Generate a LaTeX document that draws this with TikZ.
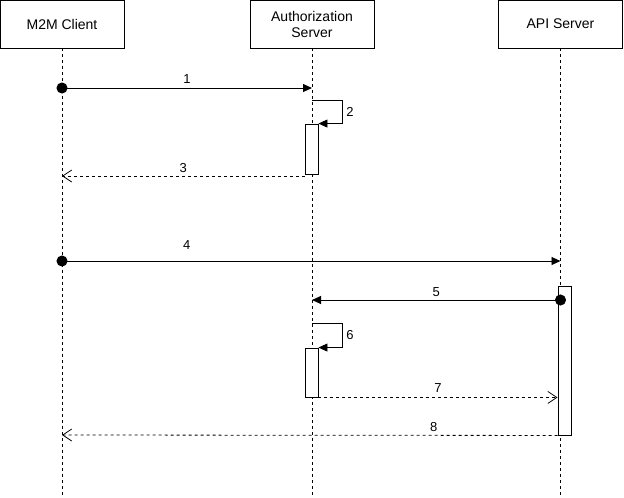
\documentclass[tikz,border=0pt]{standalone}
\usepackage{fontspec}
\setmainfont{Liberation Sans}
\usetikzlibrary{arrows.meta,positioning}
\tikzstyle{actor}=[rectangle,draw=black,fill=white,line width=0.9pt,
  minimum width=124pt,minimum height=48pt,align=center,font=\fontsize{14}{16}\selectfont]
\tikzstyle{lifeline}=[line width=0.8pt,dash pattern=on 3pt off 3pt]
\tikzstyle{actbox}=[rectangle,draw=black,fill=white,line width=0.9pt,
  minimum width=13pt,inner sep=0pt]
\tikzstyle{msg}=[line width=0.9pt,-{Triangle[length=9pt,width=8pt]}]
\tikzstyle{msgdot}=[msg,{Circle[length=11pt]}-{Triangle[length=9pt,width=8pt]},shorten <=-5.5pt]
\tikzstyle{reply}=[line width=0.8pt,dash pattern=on 3pt off 3pt,
  -{Straight Barb[length=9pt,width=12pt,line width=0.8pt]}]
\tikzstyle{lbl}=[font=\fontsize{13}{15}\selectfont,inner sep=1pt]
\tikzstyle{none}=[]

\begin{document}
\begin{tikzpicture}[x=1pt,y=-1pt]
  \useasboundingbox (0,0) rectangle (624,498);
  % participants
  \node [style=actor] (client) at (62,24) {M2M Client};
  \node [style=actor] (auth) at (312,24) {Authorization\\Server};
  \node [style=actor] (api) at (560.5,24) {API Server};
  \coordinate (clientEnd) at (62,498);
  \coordinate (authEnd) at (312,498);
  \coordinate (apiEnd) at (560.5,498);
  \draw [style=lifeline] (client.south) to (clientEnd);
  \draw [style=lifeline] (auth.south) to (authEnd);
  \draw [style=lifeline] (api.south) to (apiEnd);
  % activations
  \node [style=actbox,minimum height=50pt] (act1) at (311.5,149) {};
  \node [style=actbox,minimum height=49pt] (act2) at (311.5,372.5) {};
  \node [style=actbox,minimum height=149pt] (act3) at (564.5,360.5) {};
  % 1
  \coordinate (c1) at (62,88);
  \coordinate (a1) at (312,88);
  \draw [style=msgdot] (c1) to node [style=lbl,above=3pt] {1} (a1);
  % 2
  \coordinate (a2) at (312,100);
  \draw [style=msg] (a2) -- ++(30,0) |- (act1.north east)
    node [style=lbl,pos=0.25,right=3pt] {2};
  % 3
  \coordinate (c3) at (62,176);
  \draw [style=reply] (act1.south west |- c3) to node [style=lbl,above=2pt] {3} (c3);
  % 4
  \coordinate (c4) at (62,261);
  \coordinate (p4) at (560.5,261);
  \draw [style=msgdot] (c4) to node [style=lbl,above=10pt,pos=0.25] {4} (p4);
  % 5
  \coordinate (p5) at (560.5,300);
  \coordinate (a5) at (312,300);
  \draw [style=msgdot] (p5) to node [style=lbl,above=2pt] {5} (a5);
  % 6
  \coordinate (a6) at (312,323);
  \draw [style=msg] (a6) -- ++(30,0) |- (act2.north east)
    node [style=lbl,pos=0.25,right=3pt] {6};
  % 7
  \draw [style=reply] (act2.south east) to node [style=lbl,above=4pt] {7} (act3.west |- act2.south east);
  % 8
  \coordinate (c8) at (62,435);
  \draw [style=reply] (act3.south west) to node [style=lbl,above=2pt,pos=0.25] {8} (c8);
\end{tikzpicture}
\end{document}
